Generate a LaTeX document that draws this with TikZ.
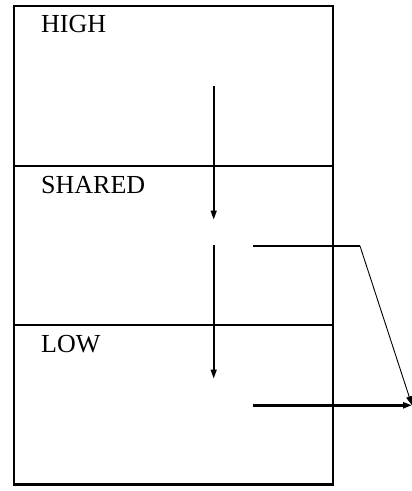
\documentclass[tikz,border=0pt]{standalone}
\usepackage{fontspec}
\setmainfont{Liberation Serif}
\usetikzlibrary{arrows.meta}
\begin{document}
\begin{tikzpicture}[x=1pt,y=-1pt,
  lbl/.style={anchor=base west,inner sep=0pt,font=\fontsize{26}{30}\selectfont},
  tipstyle/.style={-{Triangle[length=9pt,width=6pt]}},
  flow/.style={line width=1.6pt,tipstyle},
  divider/.style={line width=1.8pt},
  thin/.style={line width=0.9pt}]
\useasboundingbox (0,0) rectangle (412,491);
% outer frame and dividers
\draw[line width=2.2pt] (14,6) rectangle (333,484.5);
\coordinate (d1l) at (14,166);
\coordinate (d1r) at (333,166);
\coordinate (d2l) at (14,325);
\coordinate (d2r) at (333,325);
\draw[divider] (d1l) -- (d1r);
\draw[divider] (d2l) -- (d2r);
% labels
\node[lbl] (high) at (41,32) {HIGH};
\node[lbl] (shared) at (41,193) {SHARED};
\node[lbl] (low) at (41,352) {LOW};
% vertical arrows
\coordinate (a1s) at (213.7,86);
\coordinate (a1e) at (213.7,219.5);
\coordinate (a2s) at (213.7,245);
\coordinate (a2e) at (213.7,378.5);
\draw[flow] (a1s) -- (a1e);
\draw[flow] (a2s) -- (a2e);
% side path
\coordinate (h1) at (253,246);
\coordinate (bend) at (360,246);
\coordinate (tip) at (412,405.3);
\coordinate (h2) at (253,405.3);
\draw[line width=1.8pt] (h1) -- (bend);
\draw[thin,tipstyle] (bend) -- (tip);
\draw[line width=2.4pt,tipstyle] (h2) -- (tip);
\end{tikzpicture}
\end{document}
